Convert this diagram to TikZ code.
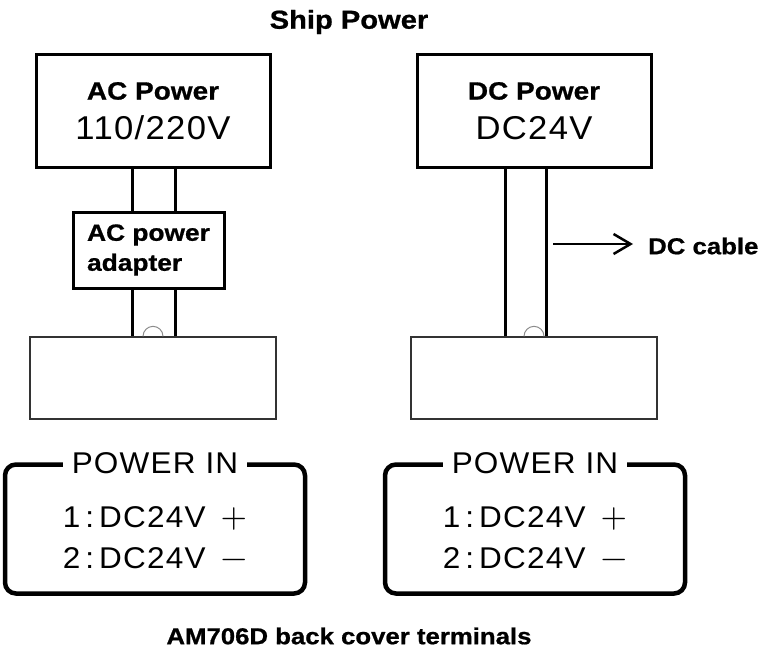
\documentclass[tikz,border=0pt]{standalone}
\usepackage{fontspec}
\setmainfont{Liberation Sans}[UprightFeatures={FakeStretch=1.05, LetterSpace=4},
  BoldFeatures={FakeStretch=1.12, FakeBold=0.8}]
\newfontfamily\signfont{lmroman10-regular.otf}
\newcommand{\sgn}[1]{{\signfont\fontsize{34}{41}\selectfont#1}}
\usetikzlibrary{arrows.meta,positioning}

\begin{document}
\begin{tikzpicture}[x=1pt, y=-1pt, >={Straight Barb[length=17pt, width=20pt]},
  srcbox/.style={draw, line width=3pt, minimum width=234pt, minimum height=112pt,
    align=center, inner sep=0pt, font=\fontsize{33}{40}\selectfont},
  wire/.style={line width=3pt},
  plug/.style={draw=black!80, line width=1.3pt, minimum width=246pt, minimum height=82pt},
  notch/.style={draw=black!45, line width=1pt},
  pinbox/.style={draw, line width=4.5pt, rounded corners=11pt, minimum width=300pt, minimum height=129pt},
  pinhead/.style={fill=white, inner xsep=9pt, inner ysep=0pt, font=\fontsize{30}{36}\selectfont},
  pinval/.style={align=left, inner sep=0pt, font=\fontsize{30}{41}\selectfont},
  caption/.style={inner sep=0pt, font=\bfseries\fontsize{23}{28}\selectfont}]
  \useasboundingbox (0,0) rectangle (759,650);
  % sources
  \node[caption, font=\bfseries\fontsize{26}{30}\selectfont] (ship) at (349,22) {Ship Power};
  \node[srcbox] (ac) at (153,111) {{\bfseries\fontsize{25}{30}\selectfont AC Power}\\110/220V};
  \node[srcbox] (dc) at (534,111) {{\bfseries\fontsize{25}{30}\selectfont DC Power}\\DC24V};
  \node[srcbox, minimum width=151pt, minimum height=76pt, align=left,
    font=\bfseries\fontsize{23.5}{30}\selectfont] (adp) at (148.5,250) {AC power\\adapter};
  % plugs on the back cover
  \node[plug] (lplug) at (153,378) {};
  \node[plug] (rplug) at (534,378) {};
  \draw[notch] ([xshift=-10pt]lplug.north) arc[start angle=180, end angle=0, radius=10pt];
  \draw[notch] ([xshift=-10pt]rplug.north) arc[start angle=180, end angle=0, radius=10pt];
  % cables
  \draw[wire] ([xshift=-21pt]ac.south) -- ([xshift=-21pt]ac.south |- adp.north);
  \draw[wire] ([xshift=22pt]ac.south) -- ([xshift=22pt]ac.south |- adp.north);
  \draw[wire] ([xshift=-21pt]ac.south |- adp.south) -- ([xshift=-21pt]ac.south |- lplug.north);
  \draw[wire] ([xshift=22pt]ac.south |- adp.south) -- ([xshift=22pt]ac.south |- lplug.north);
  \draw[wire] ([xshift=-29pt]dc.south) -- ([xshift=-29pt]dc.south |- rplug.north);
  \draw[wire] ([xshift=12pt]dc.south) -- ([xshift=12pt]dc.south |- rplug.north);
  \coordinate (cab) at (553,244);
  \node[caption, anchor=west] (cable) at (648,246) {DC cable};
  \draw[->, line width=2.5pt] (cab) -- (cab -| cable.west) [shorten >=15pt];
  % terminal panels
  \node[pinbox] (lpin) at (155,529) {};
  \node[pinbox] (rpin) at (535,529) {};
  \node[pinhead] (lhead) at ([yshift=-1pt]lpin.north) {POWER IN};
  \node[pinhead] (rhead) at ([yshift=-1pt]rpin.north) {POWER IN};
  \node[pinval] (lval) at (155,538) {1\,:\,DC24V\enspace\sgn{+}\\2\,:\,DC24V\enspace\sgn{−}};
  \node[pinval] (rval) at (535,538) {1\,:\,DC24V\enspace\sgn{+}\\2\,:\,DC24V\enspace\sgn{−}};
  \node[caption] (cover) at (349,636) {AM706D back cover terminals};
\end{tikzpicture}
\end{document}
